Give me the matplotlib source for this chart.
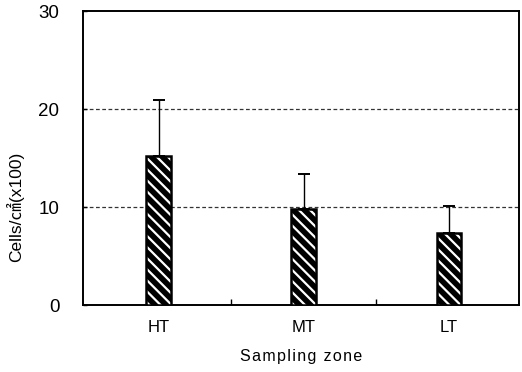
import matplotlib
matplotlib.use("Agg")
import matplotlib.pyplot as plt
from matplotlib.ticker import FixedLocator

# Mean cell counts per sampling zone, with upper standard deviation
zones = ["HT", "MT", "LT"]
cells = [15.2, 9.8, 7.4]
sd_upper = [5.7, 3.6, 2.7]
y_ticks = [0, 10, 20, 30]

plt.rcParams["font.family"] = ["Liberation Sans", "Noto Sans CJK KR", "DejaVu Sans"]
plt.rcParams["hatch.linewidth"] = 1.6

fig = plt.figure(figsize=(5.22, 3.72), dpi=100, facecolor="white")
ax = fig.add_axes([0.159, 0.180, 0.835, 0.790])

x = range(len(zones))
bar_w = 0.17

# black bars with white diagonal stripes, then a thick outline on top
ax.bar(x, cells, width=bar_w, color="black", edgecolor="white",
       hatch="\\\\\\", linewidth=0, zorder=3)
ax.bar(x, cells, width=bar_w, fill=False, edgecolor="black",
       linewidth=1.8, zorder=4)
ax.errorbar(x, cells, yerr=[[0] * len(zones), sd_upper], fmt="none",
            ecolor="black", elinewidth=1.0, capsize=4, capthick=1.4, zorder=2)

ax.set_xlim(-0.52, 2.48)
ax.set_ylim(0, 30)
ax.set_yticks(y_ticks)
ax.set_xticks(list(x))
ax.set_xticklabels(zones)
ax.xaxis.set_minor_locator(FixedLocator([0.5, 1.5]))

for yv in [10, 20]:
    ax.axhline(yv, color="#333333", linewidth=0.9, linestyle=(0, (3, 2)), zorder=1)

ax.tick_params(axis="y", direction="in", length=3, width=1, pad=17, labelsize=13.5)
ax.tick_params(axis="x", which="major", length=0, pad=11, labelsize=12)
ax.tick_params(axis="x", which="minor", direction="in", length=4, width=1)

for sp in ax.spines.values():
    sp.set_linewidth(1.4)

# slightly tracked-out axis title
ax.set_xlabel("\u200a".join("Sampling zone"), fontsize=11.5, labelpad=10)
ax.set_ylabel("Cells/\u33a0(x100)", fontsize=12.5)
ax.yaxis.set_label_coords(-0.135, 0.333)

fig.savefig("out.png", dpi=100, facecolor="white")
